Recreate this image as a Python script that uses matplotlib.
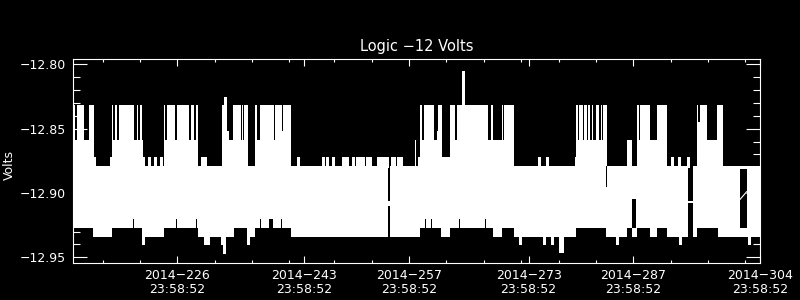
import numpy as np
import matplotlib
matplotlib.use("Agg")
import matplotlib.pyplot as plt

# ---------------- data (day of year 2014) ----------------
title = "Logic \u221212 Volts"
ylabel = "Volts"
major_days = [226, 243, 257, 273, 287, 304]
major_labels = ["2014\u2212226\n23:58:52", "2014\u2212243\n23:58:52", "2014\u2212257\n23:58:52",
                "2014\u2212273\n23:58:52", "2014\u2212287\n23:58:52", "2014\u2212304\n23:58:52"]
minor_days = [216, 221, 231, 236, 241, 247, 252, 262, 267, 272, 277, 282, 292, 297, 302]
y_major = [-12.80, -12.85, -12.90, -12.95]
y_labels = ["\u221212.80", "\u221212.85", "\u221212.90", "\u221212.95"]
x_range = [212.0, 304.0]
y_range = [-12.9547, -12.7961]

# upper envelope of the signal (step, start day -> max volts)
top_day = [212.00, 212.24, 212.51, 213.51, 214.18, 214.85, 215.12, 216.99, 217.26, 217.43,
           217.66, 217.97, 218.19, 220.20, 220.56, 220.78, 221.00, 221.27, 221.45, 221.67,
           224.22, 224.35, 224.58, 225.69, 225.92, 227.56, 227.83, 228.27, 228.46, 228.81,
           231.94, 232.24, 232.91, 233.49, 234.52, 234.61, 234.79, 234.92, 235.50, 236.39,
           236.62, 237.06, 238.97, 239.07, 240.04, 240.14, 241.17, 257.80, 257.93, 258.20,
           258.47, 258.70, 259.00, 260.38, 260.70, 260.92, 261.37, 262.48, 263.15, 263.38,
           265.39, 265.49, 267.61, 267.93, 268.28, 269.40, 269.53, 269.71, 271.05, 279.21,
           279.35, 279.65, 279.79, 280.24, 280.42, 280.77, 280.95, 281.22, 281.44, 281.66,
           282.02, 282.46, 282.65, 282.78, 283.00, 283.45, 286.12, 286.79, 287.46, 287.77,
           287.90, 289.24, 290.14, 291.48, 295.49, 295.71, 295.93, 296.83, 298.17, 299.05]
top_val = [-12.832, -12.859, -12.832, -12.859, -12.832, -12.872, -12.879, -12.872, -12.832, -12.859,
           -12.832, -12.859, -12.832, -12.859, -12.832, -12.859, -12.832, -12.859, -12.872, -12.879,
           -12.832, -12.859, -12.832, -12.859, -12.832, -12.859, -12.832, -12.859, -12.832, -12.879,
           -12.832, -12.852, -12.859, -12.832, -12.859, -12.832, -12.859, -12.832, -12.879, -12.832,
           -12.859, -12.832, -12.859, -12.832, -12.852, -12.832, -12.879, -12.859, -12.879, -12.872,
           -12.832, -12.859, -12.832, -12.859, -12.852, -12.832, -12.872, -12.832, -12.859, -12.832,
           -12.859, -12.832, -12.859, -12.832, -12.859, -12.832, -12.859, -12.832, -12.879, -12.872,
           -12.832, -12.859, -12.832, -12.859, -12.832, -12.859, -12.832, -12.859, -12.832, -12.859,
           -12.832, -12.859, -12.832, -12.859, -12.832, -12.879, -12.859, -12.879, -12.832, -12.859,
           -12.832, -12.859, -12.832, -12.879, -12.832, -12.845, -12.832, -12.859, -12.832, -12.879]

# lower envelope of the signal (step, start day -> min volts)
bot_day = [212.00, 214.68, 217.26, 220.07, 220.20, 221.45, 224.22, 225.86, 225.99, 228.46,
           228.59, 228.81, 233.58, 235.28, 236.39, 237.06, 237.19, 238.27, 238.84, 239.87,
           240.00, 241.17, 258.47, 259.14, 259.28, 259.94, 260.11, 261.24, 262.48, 263.69,
           263.82, 267.17, 267.31, 268.24, 269.40, 271.05, 277.07, 277.74, 279.35, 283.32,
           286.12, 286.79, 287.46, 289.24, 290.14, 291.48, 295.53, 298.34]
bot_val = [-12.927, -12.934, -12.927, -12.920, -12.927, -12.934, -12.927, -12.920, -12.927, -12.920,
           -12.927, -12.934, -12.927, -12.934, -12.927, -12.920, -12.927, -12.920, -12.927, -12.920,
           -12.927, -12.934, -12.927, -12.920, -12.927, -12.920, -12.927, -12.934, -12.927, -12.920,
           -12.927, -12.920, -12.927, -12.934, -12.927, -12.934, -12.947, -12.934, -12.927, -12.934,
           -12.927, -12.934, -12.927, -12.934, -12.927, -12.934, -12.927, -12.934]

# isolated excursions
down_day = [221.45, 229.74, 230.14, 232.02, 232.24, 235.50, 271.85, 275.10, 276.17, 284.79, 293.26, 302.49]
down_val = [-12.940, -12.940, -12.940, -12.940, -12.947, -12.940, -12.940, -12.940, -12.940, -12.940, -12.940, -12.940]
up_day = [232.42, 264.26]
up_val = [-12.8256, -12.8052]
blip_day = [222.21, 223.01, 223.81, 229.26, 229.70, 242.19, 245.53, 246.07, 246.87, 248.21,
            248.43, 248.70, 249.54, 249.99, 250.43, 250.80, 251.34, 251.55, 251.78, 252.89,
            253.25, 253.69, 254.01, 254.68, 254.99, 255.57, 255.89, 274.39, 275.42, 291.16,
            292.14, 293.17, 294.28]
blip_val = -12.872

# data gaps (no samples between lo and hi)
gap_start = [254.25, 254.25, 283.35, 286.83, 294.37, 294.37, 301.29]
gap_end = [254.45, 254.45, 283.52, 287.37, 295.04, 295.04, 302.18]
gap_lo = [-12.906, -12.934, -12.895, -12.927, -12.906, -12.934, -12.927]
gap_hi = [-12.879, -12.910, -12.879, -12.905, -12.879, -12.908, -12.881]
bridge_day = [301.29, 302.18]
bridge_val = [-12.905, -12.899]

# ---------------- plot ----------------
fig = plt.figure(figsize=(8, 3), dpi=100, facecolor="black")
ax = fig.add_axes([0.0909, 0.1223, 0.8595, 0.6800], facecolor="black")
mid = -12.90

tx = np.array(top_day + [x_range[1]])
ty = np.array(top_val + [top_val[-1]])
ax.fill_between(tx, mid, ty, step="post", color="white", lw=0, antialiased=False)
bx = np.array(bot_day + [x_range[1]])
by = np.array(bot_val + [bot_val[-1]])
ax.fill_between(bx, by, mid, step="post", color="white", lw=0, antialiased=False)

for s, e, lo, hi in zip(gap_start, gap_end, gap_lo, gap_hi):
    ax.fill_between([s, e], lo, hi, color="black", lw=0, antialiased=False)
ax.plot(bridge_day, bridge_val, color="white", lw=0.8)

ax.vlines(down_day, down_val, -12.925, color="white", lw=0.8, antialiased=False)
ax.vlines(up_day, -12.86, up_val, color="white", lw=0.8, antialiased=False)
ax.vlines(blip_day, -12.88, blip_val, color="white", lw=0.8, antialiased=False)

ax.set_xlim(*x_range)
ax.set_ylim(*y_range)
ax.set_xticks(major_days)
ax.set_xticklabels(major_labels, linespacing=1.15)
ax.set_xticks(minor_days, minor=True)
ax.set_yticks(y_major)
ax.set_yticklabels(y_labels)
ax.set_yticks(np.arange(-12.95, -12.795, 0.01), minor=True)

for sp in ax.spines.values():
    sp.set_color("white")
    sp.set_linewidth(0.8)
ax.tick_params(axis="x", which="major", direction="in", length=5, width=0.8,
               top=True, bottom=True, colors="white", labelsize=9, pad=4)
ax.tick_params(axis="x", which="minor", direction="in", length=2.5, width=0.8,
               top=True, bottom=True, colors="white")
ax.tick_params(axis="y", which="major", direction="in", length=10, width=0.8,
               left=True, right=True, colors="white", labelsize=9, pad=5)
ax.tick_params(axis="y", which="minor", direction="in", length=5, width=0.8,
               left=True, right=True, colors="white")

ax.set_title(title, color="white", fontsize=10.5, pad=6)
fig.text(0.012, 1 - 165 / 300, ylabel, rotation=90, color="white", fontsize=9,
         ha="center", va="center")

fig.savefig("out.png", dpi=100, facecolor="black")
